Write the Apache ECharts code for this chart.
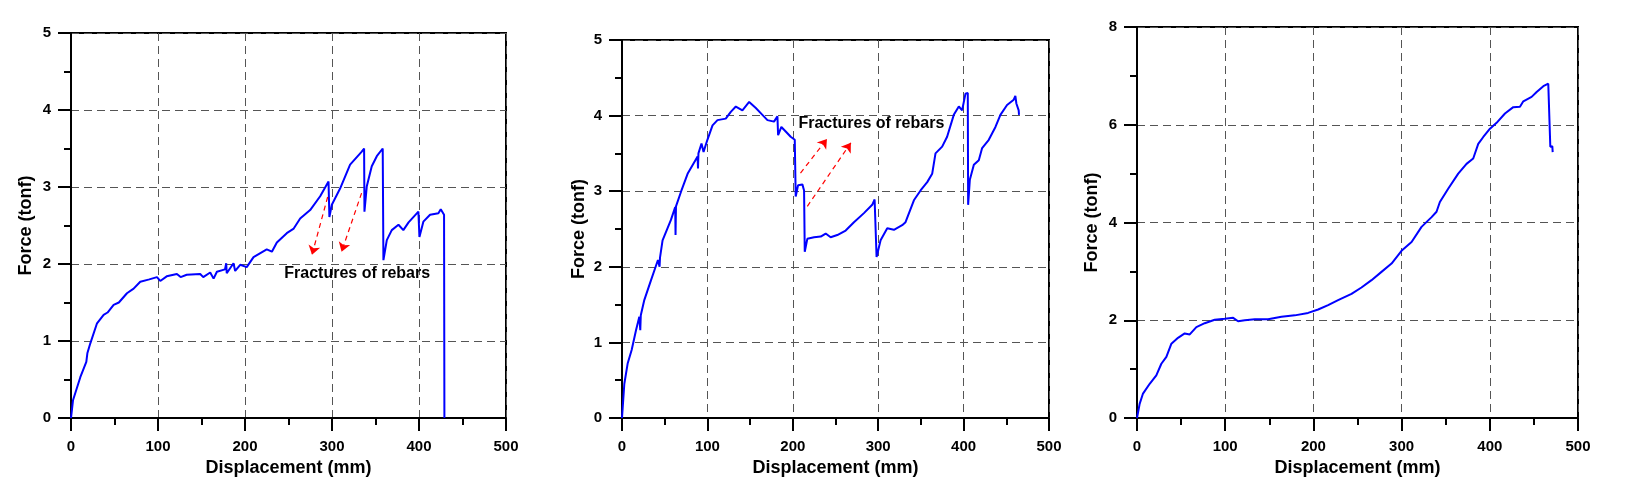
<!DOCTYPE html>
<html><head><meta charset="utf-8">
<script src="https://cdn.jsdelivr.net/npm/echarts@6/dist/echarts.min.js"></script>
<style>html,body{margin:0;padding:0;background:#fff}#c{width:1632px;height:500px}</style>
</head><body><div id="c"></div>
<script>
// ---- data (displacement mm, force tonf) ----
const test1 = [[0,0],[2.3,0.23],[10.7,0.53],[17.6,0.73],[18.8,0.84],[22.2,0.97],[29.9,1.23],[37.5,1.34],[42,1.37],[49,1.47],[55,1.5],[64.3,1.62],[72,1.68],[79.6,1.77],[90,1.8],[98.8,1.83],[102.6,1.78],[110,1.84],[121.7,1.87],[126,1.83],[133,1.86],[148.5,1.87],[152,1.83],[160,1.89],[163.9,1.81],[167.7,1.9],[177,1.93],[178.4,2.01],[179,1.88],[186.8,2.01],[188.7,1.91],[194.5,1.99],[202,1.96],[209.8,2.09],[225,2.19],[230.9,2.16],[236.6,2.28],[248,2.4],[256,2.46],[263.4,2.59],[274.9,2.7],[286.4,2.88],[296,3.07],[297,2.61],[299.8,2.77],[309.3,2.98],[320.8,3.29],[334.2,3.46],[336.9,3.5],[337.3,2.68],[340,3.01],[345.7,3.27],[351.5,3.4],[358.3,3.5],[359.1,2.05],[363,2.31],[368.7,2.44],[376.4,2.51],[382,2.44],[388,2.54],[399.3,2.68],[400.5,2.35],[405,2.55],[412.7,2.64],[422.3,2.66],[425,2.71],[428.8,2.64],[429.2,0]];
const test2 = [[0,0],[2.7,0.45],[6.6,0.72],[11.3,0.9],[16.4,1.16],[20.3,1.34],[21.4,1.16],[22,1.36],[26.1,1.56],[33.9,1.82],[42.1,2.09],[44,2.0],[44.5,2.12],[47.5,2.35],[57.3,2.62],[62.3,2.79],[62.7,2.42],[63.2,2.8],[69,2.99],[76.8,3.23],[88.5,3.46],[89,3.3],[89.5,3.5],[93.1,3.63],[95.5,3.52],[100,3.68],[106,3.87],[111.8,3.94],[121.5,3.96],[127.4,4.05],[133.3,4.12],[141,4.07],[148.9,4.18],[156.7,4.1],[164.4,4.01],[170.3,3.94],[178,3.92],[182,3.99],[182.8,3.74],[186.6,3.85],[191.7,3.79],[197.5,3.72],[202.3,3.68],[203.4,2.93],[206.2,3.08],[211.2,3.09],[213.2,3.01],[214,2.2],[217,2.37],[224.9,2.39],[232.7,2.4],[238.5,2.44],[244.3,2.39],[252.1,2.42],[261.9,2.48],[271.6,2.59],[283.3,2.71],[293,2.82],[295.8,2.89],[298.1,2.13],[302.8,2.35],[310.6,2.51],[318.4,2.49],[328.1,2.55],[332,2.59],[341.8,2.88],[349.6,3.01],[357.4,3.12],[363.2,3.23],[367.1,3.5],[374.9,3.59],[380.7,3.72],[388.5,4.01],[394.4,4.12],[398.3,4.07],[402.2,4.29],[404.9,4.3],[405.3,2.82],[407.3,3.15],[412,3.35],[417.8,3.41],[421.7,3.57],[429.5,3.68],[437.3,3.85],[443.1,4.01],[450.9,4.14],[458.7,4.21],[460.6,4.26],[461.8,4.16],[464.5,4.07],[464.9,4.01]];
const test3 = [[0,0],[3,0.29],[6.8,0.5],[14.4,0.7],[21.9,0.87],[27.6,1.11],[33.3,1.25],[39,1.52],[46.5,1.64],[54.1,1.73],[59.8,1.71],[67.3,1.86],[76.8,1.94],[88.1,2.01],[99.5,2.03],[109,2.05],[114.6,1.98],[122.2,2.0],[133.5,2.02],[148.6,2.02],[163.8,2.07],[178.9,2.1],[194,2.15],[205.4,2.22],[216.7,2.31],[228,2.41],[243.2,2.54],[254.5,2.67],[265.9,2.82],[277.2,2.99],[288.6,3.16],[299.9,3.42],[311.3,3.6],[322.6,3.91],[334,4.11],[339.6,4.22],[343.4,4.42],[352.8,4.69],[364.2,5.0],[373.6,5.2],[381.2,5.31],[386.9,5.61],[392.6,5.75],[400.2,5.92],[407.7,6.04],[417.2,6.23],[426.6,6.36],[434.2,6.37],[438,6.48],[447.4,6.57],[453.1,6.67],[460.7,6.79],[466.3,6.84],[468.6,5.55],[470.9,5.56],[471.3,5.44]];
const yMax = [5, 5, 8];
const yStep = [1, 1, 2];
const annText = 'Fractures of rebars';
const ann1Pos = [329, 1.88];
const ann2Pos = [292, 3.89];
const arrows1 = [[[295, 2.87], [277, 2.12]], [[334, 2.92], [311, 2.16]]];
const arrows2 = [[[209, 3.24], [240, 3.69]], [[217, 2.80], [268, 3.64]]];

const FONT = 'Arial, "Liberation Sans", sans-serif';
const grids = [
  {left: 71, top: 33, width: 435, height: 385},
  {left: 622, top: 40, width: 427, height: 378},
  {left: 1137, top: 27, width: 441, height: 391}
].map(g => Object.assign(g, {show: true, borderColor: '#000', borderWidth: 2, backgroundColor: 'transparent'}));

const splitLine = {show: true, lineStyle: {color: '#555', width: 1, type: [8, 5]}};
const yNameGaps = [36, 34, 36];
const xAxes = [0,1,2].map(i => ({
  type: 'value', gridIndex: i, min: 0, max: 500, interval: 100,
  name: 'Displacement (mm)', nameLocation: 'middle', nameGap: 38,
  nameTextStyle: {fontFamily: FONT, fontWeight: 'bold', fontSize: 18, color: '#000'},
  axisLine: {show: true, onZero: false, lineStyle: {color: '#000', width: 2}},
  axisTick: {show: true, inside: false, length: 13, lineStyle: {color: '#000', width: 2}},
  minorTick: {show: true, splitNumber: 2, length: 7, lineStyle: {color: '#000', width: 2}},
  axisLabel: {fontFamily: FONT, fontWeight: 'bold', fontSize: 15, color: '#000', margin: 21},
  splitLine: splitLine
}));
const yAxes = [0,1,2].map(i => ({
  type: 'value', gridIndex: i, min: 0, max: yMax[i], interval: yStep[i],
  name: 'Force (tonf)', nameLocation: 'middle', nameGap: yNameGaps[i],
  nameTextStyle: {fontFamily: FONT, fontWeight: 'bold', fontSize: 18, color: '#000'},
  axisLine: {show: true, onZero: false, lineStyle: {color: '#000', width: 2}},
  axisTick: {show: true, inside: false, length: 13, lineStyle: {color: '#000', width: 2}},
  minorTick: {show: true, splitNumber: 2, length: 7, lineStyle: {color: '#000', width: 2}},
  axisLabel: {fontFamily: FONT, fontWeight: 'bold', fontSize: 15, color: '#000', margin: 20},
  splitLine: splitLine
}));

function arrowLines(arr) {
  return {
    silent: true, symbol: ['none', 'arrow'], symbolSize: 9,
    lineStyle: {color: '#ff0000', width: 1.2, type: [5, 4]},
    label: {show: false},
    data: arr.map(a => [{coord: a[0]}, {coord: a[1]}])
  };
}
function annPoint(pos) {
  return {
    silent: true,
    data: [{coord: pos, symbol: 'circle', symbolSize: 0,
      label: {show: true, formatter: annText, position: 'inside', fontFamily: FONT, fontWeight: 'bold', fontSize: 16, color: '#000'}}]
  };
}
const lineBase = {type: 'line', showSymbol: false, symbol: 'none', animation: false,
  lineStyle: {color: '#0000ff', width: 2}, itemStyle: {color: '#0000ff'}};

const series = [
  Object.assign({}, lineBase, {xAxisIndex: 0, yAxisIndex: 0, data: test1, markLine: arrowLines(arrows1), markPoint: annPoint(ann1Pos)}),
  Object.assign({}, lineBase, {xAxisIndex: 1, yAxisIndex: 1, data: test2, markLine: arrowLines(arrows2), markPoint: annPoint(ann2Pos)}),
  Object.assign({}, lineBase, {xAxisIndex: 2, yAxisIndex: 2, data: test3})
];

const chart = echarts.init(document.getElementById('c'), null, {renderer: 'canvas'});
chart.setOption({animation: false, backgroundColor: '#fff', grid: grids, xAxis: xAxes, yAxis: yAxes, series: series});
</script></body></html>
